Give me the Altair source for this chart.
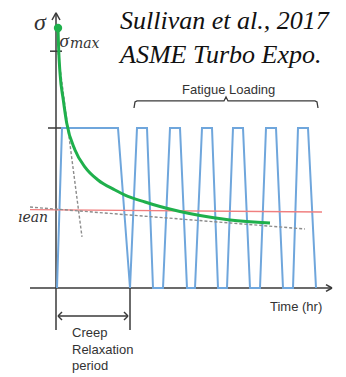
import altair as alt
import pandas as pd

# ---- data (time units, normalised stress) ----
blue_t = [0.1, 0.6, 6.2, 7.4, 8.1, 9.1, 9.7, 10.7, 11.4, 12.4, 13.1, 13.9, 14.6, 15.6,
          16.2, 17.1, 17.7, 18.7, 19.4, 20.4, 21.0, 22.0, 22.7, 23.7, 24.2, 25.2, 26.0]
blue_s = [0, 1, 1, 0, 1, 1, 0, 0, 1, 1, 0, 0, 1, 1, 0, 0, 1, 1, 0, 0, 1, 1, 0, 0, 1, 1, 0]

green_t = [0.2, 0.25, 0.4, 0.73, 1.07, 1.9, 2.9, 4.2, 5.9, 6.9, 8.9, 10.4, 12.4, 14.4, 17.4, 21.4]
green_s = [1.625, 1.519, 1.344, 1.175, 1.031, 0.8625, 0.756, 0.675, 0.6125, 0.581, 0.5375,
           0.509, 0.478, 0.453, 0.425, 0.406]

red_t = [-2.6, 26.6]
red_s = [0.49, 0.475]

dash_t = [-2.6, 0.2]
dash_s = [0.506, 1.475]
dash_t2 = [24.9, 2.6]
dash_s2 = [0.369, 0.319]

brace_t = [7.8, 7.9, 8.1, 16.8, 17.0, 17.2, 25.9, 26.1, 26.2]
brace_s = [1.125, 1.163, 1.169, 1.169, 1.194, 1.169, 1.169, 1.163, 1.125]

seg_t = [0, -0.4, 0.4, -0.6, -0.8, -2.6, 27.0, 27.0, 7.4, 0.2, 0.2, 0.2, 7.2, 7.2]
seg_s = [-0.2625, 1.675, 1.675, 1.48, 1.0, 0, 0.021, -0.021, 0, -0.175, -0.175, -0.175, -0.175, -0.175]
seg_t2 = [0, 0, 0, 0.6, 0.6, 27.6, 27.6, 27.6, 7.4, 7.2, 0.6, 0.6, 6.8, 6.8]
seg_s2 = [1.72, 1.72, 1.72, 1.48, 1.0, 0, 0, 0, -0.2625, -0.175, -0.15, -0.2, -0.15, -0.2]

serif_labels = ["Sullivan et al., 2017", "ASME Turbo Expo."]
serif_t = [6.4, 6.4]
serif_s = [1.619, 1.406]

sigma_labels = ["σ", "σ"]
sigma_t = [-2.2, 0.35]
sigma_s = [1.6125, 1.506]
sigma_size = [24, 19]

sub_labels = ["max", "ıean"]
sub_t = [1.4, -3.8]
sub_s = [1.503, 0.4125]

sans_labels = ["Fatigue Loading", "Time (hr)", "Creep", "Relaxation", "period"]
sans_t = [12.6, 21.4, 1.6, 1.6, 1.6]
sans_s = [1.2125, -0.144, -0.306, -0.4125, -0.5125]

# ---- scales ----
xs = alt.Scale(domain=[-5.6, 29.0], nice=False, zero=False)
ys = alt.Scale(domain=[-0.55625, 1.8], nice=False, zero=False)

def X(f):
    return alt.X(f, type="quantitative", scale=xs, axis=None)

def Y(f):
    return alt.Y(f, type="quantitative", scale=ys, axis=None)

seg_df = pd.DataFrame({"t": seg_t, "s": seg_s, "t2": seg_t2, "s2": seg_s2})
axes = alt.Chart(seg_df).mark_rule(color="#3a3a3a", strokeWidth=1.5).encode(
    x=X("t"), y=Y("s"), x2="t2", y2="s2")

blue_df = pd.DataFrame({"t": blue_t, "s": blue_s, "i": list(range(len(blue_t)))})
blue = alt.Chart(blue_df).mark_line(color="#6fa6dc", strokeWidth=2).encode(
    x=X("t"), y=Y("s"), order="i:Q")

red_df = pd.DataFrame({"t": red_t, "s": red_s})
red = alt.Chart(red_df).mark_line(color="#f07f7f", strokeWidth=1.3).encode(
    x=X("t"), y=Y("s"))

dash_df = pd.DataFrame({"t": dash_t, "s": dash_s, "t2": dash_t2, "s2": dash_s2})
dash = alt.Chart(dash_df).mark_rule(color="#8c8c8c", strokeWidth=1.4, strokeDash=[3, 2]).encode(
    x=X("t"), y=Y("s"), x2="t2", y2="s2")

green_df = pd.DataFrame({"t": green_t, "s": green_s})
green = alt.Chart(green_df).mark_line(color="#1fb04c", strokeWidth=3, interpolate="monotone").encode(
    x=X("t"), y=Y("s"))
dot = alt.Chart(green_df.head(1)).mark_point(filled=True, color="#1fb04c", size=70, opacity=1).encode(
    x=X("t"), y=Y("s"))

brace_df = pd.DataFrame({"t": brace_t, "s": brace_s, "i": list(range(len(brace_t)))})
brace = alt.Chart(brace_df).mark_line(color="#3a3a3a", strokeWidth=1.3).encode(
    x=X("t"), y=Y("s"), order="i:Q")

serif_df = pd.DataFrame({"t": serif_t, "s": serif_s, "label": serif_labels})
serif = alt.Chart(serif_df).mark_text(align="left", baseline="alphabetic", font="Liberation Serif",
                                      fontStyle="italic", fontSize=26, color="#111").encode(
    x=X("t"), y=Y("s"), text="label:N")

sig_layers = []
for lab, tt, ss, fs in zip(sigma_labels, sigma_t, sigma_s, sigma_size):
    d = pd.DataFrame({"t": [tt], "s": [ss], "label": [lab]})
    sig_layers.append(alt.Chart(d).mark_text(align="left", baseline="alphabetic",
                                             font="Liberation Serif", fontStyle="italic",
                                             fontSize=fs, color="#333").encode(
        x=X("t"), y=Y("s"), text="label:N"))

sub_df = pd.DataFrame({"t": sub_t, "s": sub_s, "label": sub_labels})
sub = alt.Chart(sub_df).mark_text(align="left", baseline="alphabetic", font="DejaVu Serif",
                                  fontStyle="italic", fontSize=14, color="#333").encode(
    x=X("t"), y=Y("s"), text="label:N")

sans_df = pd.DataFrame({"t": sans_t, "s": sans_s, "label": sans_labels})
sans = alt.Chart(sans_df).mark_text(align="left", baseline="alphabetic", font="Liberation Sans",
                                    fontSize=13, color="#333").encode(
    x=X("t"), y=Y("s"), text="label:N")

chart = alt.layer(axes, blue, red, dash, green, dot, brace, serif, *sig_layers, sub, sans).properties(
    width=346, height=377, autosize=alt.AutoSizeParams(type="none"), padding=0,
    background="white"
).configure_view(stroke=None)

chart.save("out.html", embed_options={"renderer": "svg", "actions": False})
